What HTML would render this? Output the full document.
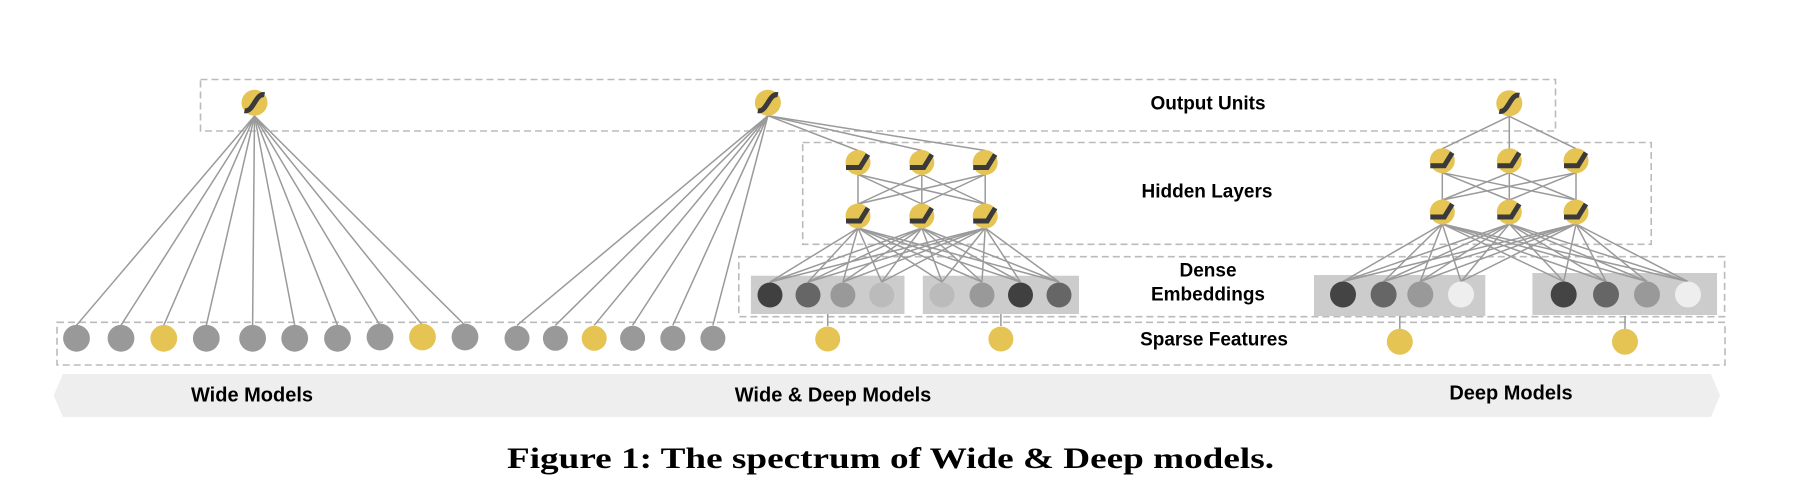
<!DOCTYPE html>
<html><head><meta charset="utf-8"><style>
html,body{margin:0;padding:0;background:#fff;}
svg{display:block}
.lbl{font-family:"Liberation Sans",Arial,sans-serif;font-weight:bold;font-size:19px;fill:#000;text-anchor:middle;dominant-baseline:central}
.cap{font-family:"Liberation Serif","DejaVu Serif",serif;font-weight:bold;font-size:30px;fill:#000}
</style></head><body>
<svg id="s" width="1806" height="494" viewBox="0 0 1806 494" xmlns="http://www.w3.org/2000/svg">
<g fill="none" stroke="#bbb" stroke-width="1.6" stroke-dasharray="7,4">
<rect x="200.5" y="79.5" width="1355" height="51.5"/>
<rect x="802.7" y="142.5" width="848.5" height="101.8"/>
<rect x="738.8" y="256.7" width="985.8" height="60"/>
<rect x="57" y="322.3" width="1668" height="42.7"/>
</g>
<polygon points="53.6,395.5 63,374 1711,374 1720,395.5 1711,417 63,417" fill="#eeeeee"/>
<g fill="#cccccc">
<rect x="750.9" y="275.7" width="153.6" height="38.3"/>
<rect x="922.8" y="275.7" width="156.2" height="38.3"/>
<rect x="1314" y="275" width="171.3" height="41"/>
<rect x="1532.4" y="273" width="184.6" height="42"/>
</g>
<g id="lines" stroke="#9a9a9a" stroke-width="1.5" fill="none"></g>
<g id="nodes"></g>
<text class="lbl" x="1208" y="104">Output Units</text>
<text class="lbl" x="1207" y="192">Hidden Layers</text>
<text class="lbl" x="1208" y="271">Dense</text>
<text class="lbl" x="1208" y="295">Embeddings</text>
<text class="lbl" x="1214" y="340">Sparse Features</text>
<text class="lbl" x="252" y="395.5" style="font-size:20px">Wide Models</text>
<text class="lbl" x="833" y="395.5" style="font-size:20px">Wide &amp; Deep Models</text>
<text class="lbl" x="1511" y="393.5" style="font-size:20px">Deep Models</text>
<text class="cap" x="507" y="468" textLength="767" lengthAdjust="spacingAndGlyphs">Figure 1: The spectrum of Wide &amp; Deep models.</text>
</svg>
<script>
var NS="http://www.w3.org/2000/svg";
var L=document.getElementById('lines'),N=document.getElementById('nodes');
function ln(x1,y1,x2,y2){var e=document.createElementNS(NS,'line');e.setAttribute('x1',x1);e.setAttribute('y1',y1);e.setAttribute('x2',x2);e.setAttribute('y2',y2);L.appendChild(e);}
function circ(x,y,r,f){var e=document.createElementNS(NS,'circle');e.setAttribute('cx',x);e.setAttribute('cy',y);e.setAttribute('r',r);e.setAttribute('fill',f);N.appendChild(e);}
function path(d){var e=document.createElementNS(NS,'path');e.setAttribute('d',d);e.setAttribute('stroke','#3a3a3a');e.setAttribute('stroke-width','5');e.setAttribute('fill','none');N.appendChild(e);}
var Y='#e5c454',G='#999999';
function sig(x,y){circ(x,y,13,Y);path('M'+(x-10)+','+(y+8)+' C'+(x-1)+','+(y+10)+' '+(x+1)+','+(y-10)+' '+(x+10)+','+(y-8));}
function relu(x,y){circ(x,y,12.5,Y);path('M'+(x-12)+','+(y+5)+' L'+(x+2)+','+(y+5)+' L'+(x+10)+','+(y-8));}
var wx=[76.5,121,163.8,206.3,252.6,294.7,337.5,380,422.5,465],wy=338.3;
wx.forEach(function(x){ln(254.5,116,x,wy-13);});
var wdO=[767.9,102.7];
var wdS=[517,555.4,594.2,632.6,672.8,712.9];
wdS.forEach(function(x){ln(wdO[0],wdO[1]+13,x,wy-13);});
var wdH=[858,921.8,985.2],wdU=162.5,wdL=216;
wdH.forEach(function(x){ln(wdO[0],wdO[1]+13,x,wdU-12);});
wdH.forEach(function(a){wdH.forEach(function(b){ln(a,wdU+12,b,wdL-12);});});
var wdE=[770,808,842.9,881.7,942,982,1020.5,1059],ey=295;
wdH.forEach(function(a){wdE.forEach(function(b){ln(a,wdL+12,b,ey-13);});});
ln(827.7,314,827.7,326);ln(1000.9,314,1000.9,326);
var dO=[1509.3,103.3],dH=[1442.3,1509.3,1576],dU=160.7,dL=212;
dH.forEach(function(x){ln(dO[0],dO[1]+13,x,dU-12);});
dH.forEach(function(a){dH.forEach(function(b){ln(a,dU+12,b,dL-12);});});
var dE=[1343,1383.6,1420.3,1461,1563.7,1606,1647,1688],dey=294.5;
dH.forEach(function(a){dE.forEach(function(b){ln(a,dL+12,b,dey-13);});});
ln(1399.8,316,1399.8,329);ln(1625,316,1625,329);
var wc=[G,G,Y,G,G,G,G,G,Y,G];
wx.forEach(function(x,i){circ(x,i>=7?337:wy,13.4,wc[i]);});
var sc=[G,G,Y,G,G,G];
wdS.forEach(function(x,i){circ(x,wy,12.5,sc[i]);});
circ(827.7,339,12.5,Y);circ(1000.9,339,12.5,Y);
circ(1399.8,341.7,13,Y);circ(1625,341.7,13,Y);
var ec=['#404040','#666','#999','#bbb','#bbb','#999','#404040','#666'];
wdE.forEach(function(x,i){circ(x,ey,12.5,ec[i]);});
var dc=['#444','#666','#999','#eee','#444','#666','#999','#eee'];
dE.forEach(function(x,i){circ(x,dey,13,dc[i]);});
sig(254.5,102.7);sig(wdO[0],wdO[1]);sig(dO[0],dO[1]);
wdH.forEach(function(x){relu(x,wdU);relu(x,wdL);});
dH.forEach(function(x){relu(x,dU);relu(x,dL);});
</script>
</body></html>
